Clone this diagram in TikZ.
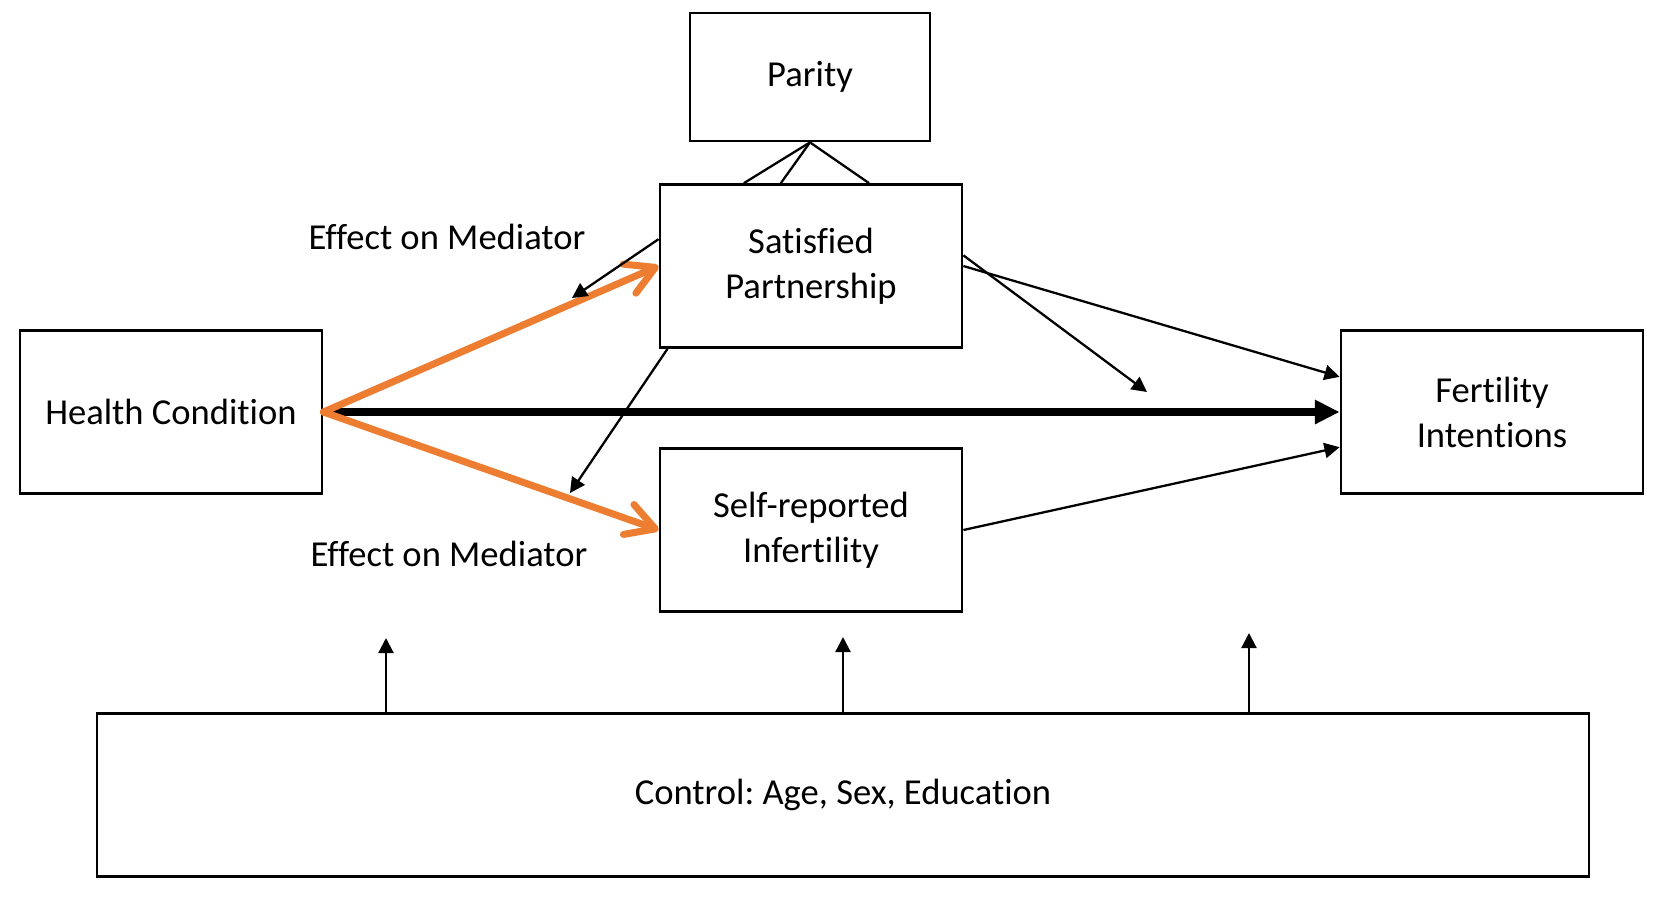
\documentclass[tikz,border=0pt]{standalone}
\usepackage{fontspec}
\setmainfont{Carlito}[Ligatures=NoCommon]
\usetikzlibrary{arrows.meta, positioning}
\usepackage{xcolor}
\definecolor{medorange}{HTML}{ED7D31}
\def\boxw{3.02cm}
\def\boxh{1.63cm}
\frenchspacing

\begin{document}
\begin{tikzpicture}[x=0.01cm, y=-0.01cm, font=\fontsize{10.4}{12.8}\selectfont]
    \tikzstyle{var}=[draw=black, line width=0.75pt, minimum width=\boxw, minimum height=\boxh, inner sep=0pt, align=center]
    \tikzstyle{path arrow}=[-{Triangle[length=4.3pt,width=4.3pt]}, line width=0.65pt]
    \tikzstyle{direct}=[-{Triangle[length=7pt,width=6.5pt]}, line width=2pt]
    \tikzstyle{mediated}=[-{Straight Barb[length=8pt,width=9pt,round]}, draw=medorange, line width=2pt, line cap=round]
    \tikzstyle{annot}=[text centered]

    \useasboundingbox (0,0) rectangle (1665,923);

    % Draw the variable boxes
    \node[var] (HC) at (171,412) {Health Condition};
    \node[var] (SP) at (811,266) {Satisfied\\Partnership};
    \node[var] (SI) at (811,530) {Self-reported\\Infertility};
    \node[var] (FI) at (1492,412) {Fertility\\Intentions};
    \node[var, minimum width=2.40cm, minimum height=1.28cm] (PA) at (810,77) {Parity};
    \node[var, minimum width=14.91cm] (CT) at (843,795) {Control: Age, Sex, Education};

    % Parity moderates the partnership
    \foreach \ang in {129.2, 110.9, 55.3}
        \draw[line width=0.65pt] (PA.south) -- (SP.\ang);

    % Direct and mediated paths
    \draw[direct] (HC.east) -- (FI.west);
    \draw[mediated] (HC.east) -- (SP.west);
    \draw[mediated] (HC.east) -- (SI.west);
    \draw[path arrow] (SP.east) -- (FI.167.6);
    \draw[path arrow] (SI.east) -- (FI.193.8);

    % Moderation arrows pointing at the paths
    \coordinate (mod-1) at (572,298);
    \coordinate (mod-2) at (570,493);
    \coordinate (mod-3) at (1147,392);
    \draw[path arrow] (SP.170.6) -- (mod-1);
    \draw[path arrow] (SP.210) -- (mod-2);
    \draw[path arrow] (SP.4.2) -- (mod-3);

    % Controls
    \foreach \i / \x / \tip in {1/386/638, 2/843/637, 3/1249/633}{
        \coordinate (ctl-\i) at (\x,\tip);
        \draw[path arrow] (ctl-\i |- CT.north) -- (ctl-\i);
    }

    \node[annot] (em-1) at (447,237) {Effect on Mediator};
    \node[annot] (em-2) at (449,554) {Effect on Mediator};
\end{tikzpicture}
\end{document}
